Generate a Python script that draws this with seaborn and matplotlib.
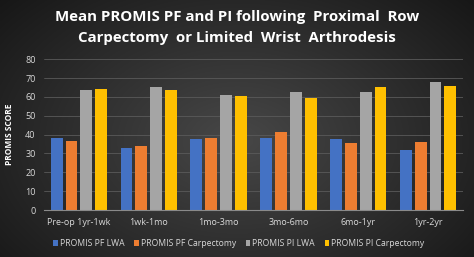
import numpy as np
import pandas as pd
import matplotlib
matplotlib.use("Agg")
import matplotlib.pyplot as plt
import seaborn as sns

categories = ["Pre-op 1yr-1wk", "1wk-1mo", "1mo-3mo", "3mo-6mo", "6mo-1yr", "1yr-2yr"]
series = ["PROMIS PF LWA", "PROMIS PF Carpectomy", "PROMIS PI LWA", "PROMIS PI Carpectomy"]
pf_lwa = [38.4, 33.0, 37.5, 38.4, 37.5, 31.8]
pf_carp = [36.8, 33.8, 38.4, 41.2, 35.5, 35.9]
pi_lwa = [63.7, 65.3, 60.8, 62.4, 62.4, 68.1]
pi_carp = [64.2, 63.7, 60.5, 59.6, 65.1, 65.8]
colors = ["#4472C4", "#ED7D31", "#A5A5A5", "#FFC000"]

rows = []
for s, vals in zip(series, [pf_lwa, pf_carp, pi_lwa, pi_carp]):
    for c, v in zip(categories, vals):
        rows.append({"cat": c, "series": s, "value": v})
df = pd.DataFrame(rows)

sns.set_theme(style="dark")
plt.rcParams['font.family'] = ['Open Sans', 'DejaVu Sans']

fig = plt.figure(figsize=(4.74, 2.57), dpi=100)
# background radial gradient
bg = fig.add_axes([0, 0, 1, 1], zorder=-10)
yy, xx = np.mgrid[0:257, 0:474]
r = np.sqrt(((xx - 237) / 300.0) ** 2 + ((yy - 140) / 200.0) ** 2)
val = np.clip(0.28 - 0.18 * r, 0.09, 0.28)
img = np.dstack([val, val, val])
bg.imshow(img, aspect="auto", extent=[0, 1, 0, 1])
bg.axis("off")

ax = fig.add_axes([44 / 474, 1 - 210 / 257, (463 - 44) / 474, (210 - 59.3) / 257])
ax.set_facecolor("none")
sns.barplot(data=df, x="cat", y="value", hue="series", palette=colors,
            width=0.85, gap=0.2, ax=ax, saturation=1, legend=True, linewidth=0)
ax.set_ylim(0, 80)
ax.set_yticks(range(0, 81, 10))
ax.set_xlim(-0.5, 5.5)
ax.grid(axis="y", color="#5a5a5a", linewidth=0.6)
ax.set_axisbelow(True)
for sp in ["top", "right", "left"]:
    ax.spines[sp].set_visible(False)
ax.spines["bottom"].set_visible(True)
ax.spines["bottom"].set_color("#8a8a8a")
ax.spines["bottom"].set_linewidth(0.8)
ax.tick_params(axis="both", colors="#d9d9d9", labelsize=6.5, length=0, pad=6)
ax.set_xlabel("")
ax.set_ylabel("PROMIS SCORE", color="white", fontsize=6, fontweight="bold", labelpad=8)

leg = ax.legend(loc="upper center", bbox_to_anchor=(0.465, -0.17), ncol=4, frameon=False,
                fontsize=6.2, handlelength=0.55, handleheight=0.55, handletextpad=0.25,
                columnspacing=1.1, borderaxespad=0)
for t in leg.get_texts():
    t.set_color("#d9d9d9")

fig.text(0.5, 1 - 17 / 257, "Mean PROMIS PF and PI following  Proximal  Row",
         ha="center", va="center", color="white", fontsize=10.8, fontweight="bold")
fig.text(0.5, 1 - 38 / 257, "Carpectomy  or Limited  Wrist  Arthrodesis",
         ha="center", va="center", color="white", fontsize=10.8, fontweight="bold")

fig.savefig("out.png", dpi=100)
